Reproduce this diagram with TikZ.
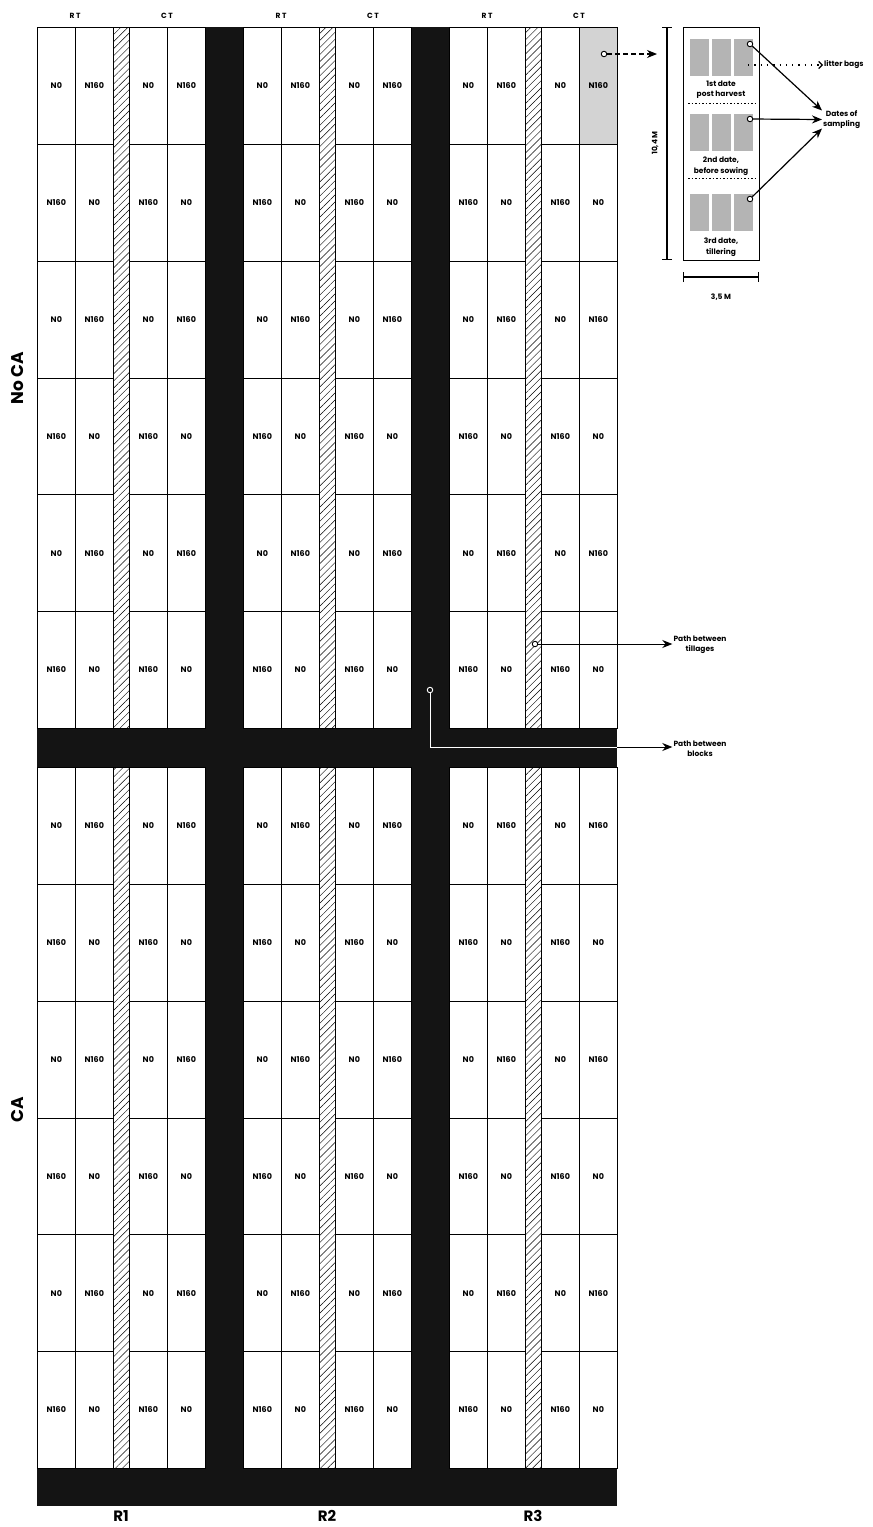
\documentclass[tikz,border=0pt]{standalone}
\usepackage{fontspec}
\setmainfont{Poppins}
\usetikzlibrary{arrows.meta,patterns.meta}
\definecolor{pathblack}{HTML}{141414}
\definecolor{cellgray}{HTML}{D3D3D3}
\definecolor{baggray}{HTML}{B4B4B4}
\newcommand\cellfont{\fontsize{8}{9}\selectfont\bfseries}
\newcommand\smallfont{\fontsize{7.5}{10.5}\selectfont\bfseries}
\begin{document}
\begin{tikzpicture}[x=1pt,y=-1pt,
  cell/.style={draw, line width=0.7pt, minimum width=38, minimum height=116.83, inner sep=0, anchor=north west, font=\cellfont},
  hatchbox/.style={draw, line width=0.7pt, minimum width=16, minimum height=701, inner sep=0, anchor=north west,
     pattern={Lines[angle=45,distance=5pt,line width=0.45pt]}},
  toplabel/.style={font=\fontsize{7.5}{8}\selectfont\bfseries},
  sidelabel/.style={font=\fontsize{17}{18}\selectfont\bfseries, rotate=90},
  replabel/.style={font=\fontsize{15}{16}\selectfont\bfseries},
  dot/.style={circle, draw, fill=white, inner sep=0, minimum size=5.5, line width=0.9pt},
  bag/.style={fill=baggray, minimum width=19, minimum height=37, inner sep=0, anchor=north west},
  note/.style={font=\smallfont, align=center, inner sep=1pt},
  arr/.style={line width=1.2pt, -{Stealth[length=10pt,width=8pt]}},
]
\useasboundingbox (0,0) rectangle (873,1527);
\fill[white] (0,0) rectangle (873,1527);
% black paths
\fill[pathblack] (205,27) rectangle (243,1506);
\fill[pathblack] (411,27) rectangle (449,1506);
\fill[pathblack] (37,728) rectangle (617,767);
\fill[pathblack] (37,1468) rectangle (617,1506);
% gray sampled plot
\fill[cellgray] (579,27) rectangle (617,143.83);
% plots
\foreach \h/\ya in {0/27,1/767}{
  \foreach \b/\bx in {1/37,2/243,3/449}{
    \node[hatchbox] (h\h-\b) at (\bx+76,\ya) {};
    \foreach \r in {0,...,5}{
      \foreach \k/\dx in {1/0,2/38,3/92,4/130}{
        \pgfmathtruncatemacro\s{mod(\r+\k+1,2)}
        \node[cell] (c\h-\b-\r-\k) at (\bx+\dx,\ya+\r*116.8333) {\ifnum\s=0 N0\else N160\fi};
      }
    }
  }
}
% top labels
\foreach \b/\bx in {1/37,2/243,3/449}{
  \node[toplabel] (rt\b) at (\bx+38,16) {R T};
  \node[toplabel] (ct\b) at (\bx+130,16) {C T};
}
\node[sidelabel] (noca) at (18,378) {No CA};
\node[sidelabel] (ca) at (18,1110) {CA};
\node[replabel] (r1) at (121,1516) {R1};
\node[replabel] (r2) at (327,1516) {R2};
\node[replabel] (r3) at (533,1516) {R3};

% inset plot
\node[draw, line width=1.3pt, minimum width=76, minimum height=233, inner sep=0, anchor=north west] (inset) at (683,27) {};
\foreach \g/\gy in {1/39,2/114,3/194}{
  \foreach \i/\gx in {1/690,2/712,3/734}{
    \node[bag] (bag\g-\i) at (\gx,\gy) {};
  }
}
\node[note] (d1) at (721,89.5) {1st date\\post harvest};
\node[note] (d2) at (721,166) {2nd date,\\before sowing};
\node[note] (d3) at (721,247) {3rd date,\\tillering};
\coordinate (sep1a) at (688,103);
\coordinate (sep1b) at (758,103);
\coordinate (sep2a) at (688,178);
\coordinate (sep2b) at (758,178);
\draw[line width=0.9pt, dash pattern=on 1.5pt off 2pt] (sep1a) -- (sep1b);
\draw[line width=0.9pt, dash pattern=on 1.5pt off 2pt] (sep2a) -- (sep2b);

% dimensions
\coordinate (vdimA) at (667,27);
\coordinate (vdimB) at (667,260);
\draw[line width=1.4pt, {Bar[width=10pt]}-{Bar[width=10pt]}] (vdimA) -- (vdimB);
\node[note, rotate=90] (vlab) at (655,143) {10,4 M};
\coordinate (hdimA) at (683,277);
\coordinate (hdimB) at (759,277);
\draw[line width=1.4pt, {Bar[width=10pt]}-{Bar[width=10pt]}] (hdimA) -- (hdimB);
\node[note] (hlab) at (721,297) {3,5 M};

% sampling dates
\node[note, anchor=west] (dates) at (822,119.5) {Dates of\\sampling};
\node[dot] (s1) at (750,44) {};
\node[dot] (s2) at (750,119) {};
\node[dot] (s3) at (750,199) {};
\draw[arr] (s1) -- ([yshift=9pt]dates.west);
\draw[arr] (s2) -- (dates.west);
\draw[arr] (s3) -- ([yshift=-9pt]dates.west);

% litter bags
\coordinate (lbstart) at (748,65);
\node[note, anchor=west] (litter) at (823,65) {litter bags};
\draw[line width=1.2pt, dash pattern=on 1.3pt off 5pt, -{Straight Barb[length=3.5pt,width=7pt]}] (lbstart) -- (litter.west);

% link from sampled plot
\node[dot] (gdot) at (604,54) {};
\coordinate (gtarget) at (657,54);
\draw[line width=1.1pt, dash pattern=on 5pt off 3pt, -{Stealth[length=10pt,width=8pt]}] (gdot) -- (gtarget);

% path between tillages
\node[note] (tillages) at (700,644.5) {Path between\\tillages};
\node[dot] (tdot) at (535,644) {};
\draw[line width=0.8pt, -{Stealth[length=10pt,width=8pt]}] (tdot) -- (tillages.west |- tdot);

% path between blocks
\node[note] (blocks) at (700,748.5) {Path between\\blocks};
\node[circle, draw=white, fill=pathblack, inner sep=0, minimum size=5.5, line width=0.9pt] (bdot) at (430,690) {};
\coordinate (bcorner) at (617,747);
\draw[white, line width=0.8pt] (bdot) |- (bcorner);
\draw[line width=0.8pt, -{Stealth[length=10pt,width=8pt]}] (bcorner) -- (blocks.west |- bcorner);
\end{tikzpicture}
\end{document}
